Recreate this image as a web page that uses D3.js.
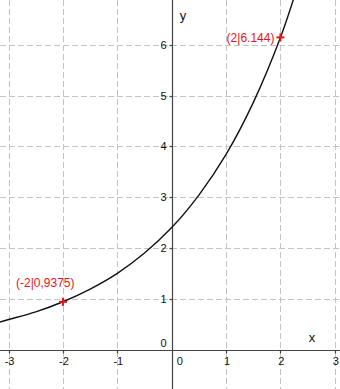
<!DOCTYPE html>
<html>
<head>
<meta charset="utf-8">
<script src="https://cdn.jsdelivr.net/npm/d3@7"></script>
<style>
	body { margin: 0; background: #fff; }
	svg { display: block; font-family: "Liberation Sans", Arial, sans-serif; }
</style>
</head>
<body>
<svg id="chart" width="340" height="389"></svg>
<script>
// Values
const curveX = [-3.2, -3, -2.5, -2, -1.5, -1, -0.5, 0, 0.5, 1, 1.5, 2, 2.3]
const curveY = [0.53, 0.59, 0.74, 0.94, 1.19, 1.5, 1.9, 2.4, 3.04, 3.84, 4.86, 6.14, 7.1]
const pointX = [-2, 2]
const pointY = [0.9375, 6.144]
const pointLabels = ["(-2|0,9375)", "(2|6.144)"]
const xTicks = [-3, -2, -1, 0, 1, 2, 3]
const yTicks = [0, 1, 2, 3, 4, 5, 6]

const width = 340
const height = 389

const x = d3.scaleLinear()
	.domain([-3, 3])
	.range([8.6, 334.8])
const y = d3.scaleLinear()
	.domain([0, 6])
	.range([349.5, 44.7])

const svg = d3.select("#chart")

// Dashed grid
const grid = svg.append("g")
	.attr("class", "grid")
	.attr("stroke", "#c4c4c4")
	.attr("stroke-width", 1)
	.attr("stroke-dasharray", "6,3")
grid.selectAll("line.vgrid")
	.data(xTicks.filter(d => d !== 0))
	.join("line")
	.attr("class", "vgrid")
	.attr("x1", d => Math.round(x(d)) + 0.5)
	.attr("x2", d => Math.round(x(d)) + 0.5)
	.attr("y1", 0)
	.attr("y2", height)
grid.selectAll("line.hgrid")
	.data(yTicks.filter(d => d !== 0))
	.join("line")
	.attr("class", "hgrid")
	.attr("x1", 0)
	.attr("x2", width)
	.attr("y1", d => Math.round(y(d)) + 0.5)
	.attr("y2", d => Math.round(y(d)) + 0.5)

// Axes
const x0 = Math.round(x(0)) + 0.5
const y0 = Math.round(y(0)) + 0.5
const axes = svg.append("g")
	.attr("stroke", "#444")
	.attr("stroke-width", 1.2)
axes.append("line")
	.attr("x1", 0).attr("x2", width)
	.attr("y1", y0).attr("y2", y0)
axes.append("line")
	.attr("x1", x0).attr("x2", x0)
	.attr("y1", 0).attr("y2", height)

// Small tick marks
axes.selectAll("line.xtick")
	.data(xTicks.filter(d => d !== 0))
	.join("line")
	.attr("class", "xtick")
	.attr("x1", d => Math.round(x(d)) + 0.5)
	.attr("x2", d => Math.round(x(d)) + 0.5)
	.attr("y1", y0)
	.attr("y2", y0 + 3)
axes.selectAll("line.ytick")
	.data(yTicks.filter(d => d !== 0))
	.join("line")
	.attr("class", "ytick")
	.attr("x1", x0 - 3)
	.attr("x2", x0)
	.attr("y1", d => Math.round(y(d)) + 0.5)
	.attr("y2", d => Math.round(y(d)) + 0.5)

// Tick labels
const labels = svg.append("g")
	.attr("font-size", 11)
	.attr("fill", "#111")
labels.selectAll("text.xlab")
	.data(xTicks)
	.join("text")
	.attr("class", "xlab")
	.attr("x", d => d === 0 ? x(0) + 8 : x(d) + 1)
	.attr("y", y0 + 14)
	.attr("text-anchor", "middle")
	.text(d => d < 0 ? "-" + Math.abs(d) : d)
labels.selectAll("text.ylab")
	.data(yTicks)
	.join("text")
	.attr("class", "ylab")
	.attr("x", x0 - 6)
	.attr("y", d => d === 0 ? y(0) - 3 : y(d) + 4)
	.attr("text-anchor", "end")
	.text(d => d)

// Axis names
svg.append("text")
	.attr("x", 312).attr("y", 342)
	.attr("font-size", 13)
	.attr("text-anchor", "middle")
	.attr("fill", "#111")
	.text("x")
svg.append("text")
	.attr("x", 183).attr("y", 20)
	.attr("font-size", 13)
	.attr("text-anchor", "middle")
	.attr("fill", "#111")
	.text("y")

// Curve
const pts = curveX.map((v, i) => [v, curveY[i]])
svg.append("defs").append("clipPath")
	.attr("id", "clip")
	.append("rect")
	.attr("width", width).attr("height", height)
svg.append("path")
	.datum(pts)
	.attr("clip-path", "url(#clip)")
	.attr("fill", "none")
	.attr("stroke", "#111")
	.attr("stroke-width", 1.4)
	.attr("d", d3.line()
		.x(d => x(d[0]))
		.y(d => y(d[1]))
		.curve(d3.curveCatmullRom))

// Marked points
const marks = svg.append("g")
	.attr("stroke", "#e8141c")
	.attr("stroke-width", 2)
pointX.forEach((px, i) => {
	const cx = x(px), cy = y(pointY[i])
	marks.append("line")
		.attr("x1", cx - 4).attr("x2", cx + 4)
		.attr("y1", cy).attr("y2", cy)
	marks.append("line")
		.attr("x1", cx).attr("x2", cx)
		.attr("y1", cy - 4).attr("y2", cy + 4)
})
svg.append("text")
	.attr("x", 16).attr("y", y(pointY[0]) - 15)
	.attr("font-size", 12)
	.attr("fill", "#e8141c")
	.text(pointLabels[0])
svg.append("text")
	.attr("x", x(pointX[1]) - 6).attr("y", y(pointY[1]) + 5)
	.attr("font-size", 12)
	.attr("text-anchor", "end")
	.attr("fill", "#e8141c")
	.text(pointLabels[1])
</script>
</body>
</html>
